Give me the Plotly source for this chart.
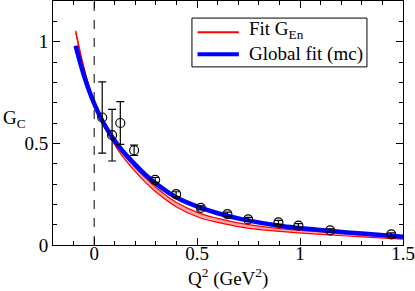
import plotly.graph_objects as go

# Data points
q2_data = [0.039, 0.087, 0.127, 0.194, 0.296, 0.398, 0.518, 0.647, 0.748, 0.895, 0.992, 1.146, 1.443]
gc_data = [0.627, 0.54, 0.60, 0.466, 0.32, 0.25, 0.183, 0.152, 0.126, 0.111, 0.095, 0.072, 0.052]
gc_err = [0.175, 0.127, 0.105, 0.025, 0.012, 0.012, 0.01, 0.01, 0.01, 0.01, 0.01, 0.008, 0.008]

# Curves
q2_curve = [-0.09, -0.05, 0.0, 0.04, 0.085, 0.13, 0.19, 0.25, 0.3, 0.4, 0.51, 0.6, 0.72, 0.9, 1.14, 1.3, 1.5]
red_mid = [1.05, 0.87, 0.695, 0.605, 0.525, 0.456, 0.382, 0.318, 0.272, 0.198, 0.146, 0.121, 0.096, 0.074, 0.056, 0.045, 0.033]
red_hw = [0.004, 0.005, 0.006, 0.007, 0.008, 0.009, 0.01, 0.011, 0.011, 0.011, 0.011, 0.01, 0.009, 0.007, 0.006, 0.005, 0.004]
blue_mid = [0.98, 0.835, 0.695, 0.61, 0.535, 0.472, 0.405, 0.345, 0.302, 0.234, 0.186, 0.156, 0.126, 0.095, 0.07, 0.056, 0.04]

legend_labels = ["Fit G<sub>En</sub>", "Global fit (mc)"]

red_hi = [m + w for m, w in zip(red_mid, red_hw)]
red_lo = [m - w for m, w in zip(red_mid, red_hw)]

FONT = "Liberation Serif"
FS = 19
SM = 1.0

fig = go.Figure()

fig.add_trace(go.Scatter(x=q2_curve, y=red_lo, mode="lines",
                         line=dict(color="red", width=1.2, shape="spline", smoothing=SM),
                         showlegend=False, hoverinfo="skip"))
fig.add_trace(go.Scatter(x=q2_curve, y=red_hi, mode="lines",
                         line=dict(color="red", width=1.2, shape="spline", smoothing=SM),
                         fill="tonexty", fillcolor="rgba(255,110,110,0.6)", showlegend=False, hoverinfo="skip"))
fig.add_trace(go.Scatter(x=q2_curve, y=blue_mid, mode="lines",
                         line=dict(color="#0000ff", width=4.5, shape="spline", smoothing=SM),
                         showlegend=False))

fig.add_trace(go.Scatter(x=q2_data, y=gc_data, mode="markers",
                         marker=dict(symbol="circle-open", size=9, color="black", line=dict(width=1.2)),
                         error_y=dict(type="data", array=gc_err, color="black", thickness=1.2, width=4),
                         showlegend=False))

fig.add_shape(type="line", x0=0, x1=0, y0=0, y1=1.2, xref="x", yref="y",
              line=dict(color="black", width=1, dash="dash"))

# Legend box (drawn manually)
fig.add_shape(type="rect", xref="paper", yref="paper", x0=0.397, x1=0.897, y0=0.730, y1=0.930,
              fillcolor="white", line=dict(color="black", width=1))
fig.add_shape(type="line", xref="paper", yref="paper", x0=0.413, x1=0.531, y0=0.872, y1=0.872,
              line=dict(color="red", width=2))
fig.add_shape(type="line", xref="paper", yref="paper", x0=0.413, x1=0.531, y0=0.782, y1=0.782,
              line=dict(color="#0000ff", width=4))
fig.add_annotation(text=legend_labels[0], xref="paper", yref="paper", x=0.553, y=0.882,
                   xanchor="left", yanchor="middle", showarrow=False,
                   font=dict(family=FONT, size=FS, color="black"))
fig.add_annotation(text=legend_labels[1], xref="paper", yref="paper", x=0.553, y=0.782,
                   xanchor="left", yanchor="middle", showarrow=False,
                   font=dict(family=FONT, size=FS, color="black"))

axis_common = dict(showgrid=False, zeroline=False, showline=True, linecolor="black", linewidth=1,
                   mirror="ticks", ticks="inside", ticklen=7, tickcolor="black",
                   tickfont=dict(family=FONT, size=FS, color="black"))

fig.update_xaxes(range=[-0.2, 1.5], dtick=0.5, tick0=0, ticklabelstandoff=-9,
                 minor=dict(dtick=0.1, ticks="inside", ticklen=4, tickcolor="black"),
                 **axis_common)
fig.update_yaxes(range=[0, 1.2], dtick=0.5, tick0=0,
                 minor=dict(dtick=0.1, ticks="inside", ticklen=4, tickcolor="black"),
                 **axis_common)

fig.add_annotation(text="G<sub>C</sub>", xref="paper", yref="paper", x=-0.11, y=0.515,
                   showarrow=False, font=dict(family=FONT, size=FS, color="black"), xanchor="center")
fig.add_annotation(text="Q<sup>2</sup> (GeV<sup>2</sup>)", xref="paper", yref="paper", x=0.5, y=-0.135,
                   showarrow=False, font=dict(family=FONT, size=FS, color="black"), yanchor="middle")

fig.update_layout(
    width=415, height=291,
    margin=dict(l=53, r=12, t=1, b=46),
    paper_bgcolor="white", plot_bgcolor="white",
    font=dict(family=FONT, size=FS, color="black"),
    showlegend=False,
)

fig.write_html("out.html", config={"displayModeBar": False},
               post_script="document.body.style.margin='0';document.body.style.padding='0';")
